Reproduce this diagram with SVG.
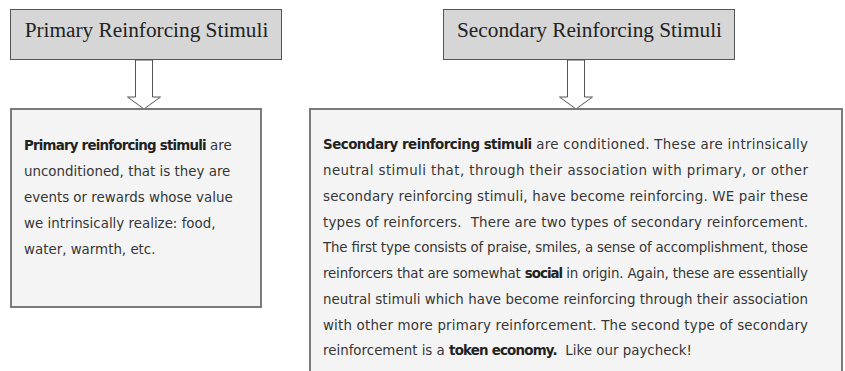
<svg xmlns="http://www.w3.org/2000/svg" width="845" height="371" viewBox="0 0 845 371">
<style>
.hdr{fill:#d6d6d6;stroke:#555;stroke-width:1}
.body{fill:#f4f4f4;stroke:#7a7a7a;stroke-width:2}
.ht{font-family:"Liberation Serif",serif;font-size:21.3px;fill:#222;text-anchor:middle}
.bt{font-family:"DejaVu Sans",sans-serif;font-size:13.4px;fill:#363636;white-space:pre}
.b{font-weight:bold;fill:#222;letter-spacing:-0.8px}
.arr{fill:#fff;stroke:#555;stroke-width:1}
</style>
<rect width="845" height="371" fill="#fff"/>
<g id="connectors">
<path class="arr" d="M135.5,60 V97 H127.5 L144,109 L160.5,97 H152.5 V60 Z"/>
<path class="arr" d="M567.5,60 V97 H559.5 L576,109 L592.5,97 H584.5 V60 Z"/>
</g>
<g id="primary-header">
<rect class="hdr" x="10.5" y="9.5" width="271" height="50"/>
<text class="ht" x="146.5" y="36.5">Primary Reinforcing Stimuli</text>
</g>
<g id="secondary-header">
<rect class="hdr" x="443.5" y="9.5" width="291" height="50"/>
<text class="ht" x="589.5" y="36.5">Secondary Reinforcing Stimuli</text>
</g>
<g id="primary-body">
<rect class="body" x="11" y="109" width="250" height="198"/>
<text class="bt" x="24" y="150"><tspan class="b">Primary reinforcing stimuli</tspan> are</text>
<text class="bt" x="24" y="176">unconditioned, that is they are</text>
<text class="bt" x="24" y="202">events or rewards whose value</text>
<text class="bt" x="24" y="228">we intrinsically realize: food,</text>
<text class="bt" x="24" y="254">water, warmth, etc.</text>
</g>
<g id="secondary-body">
<rect class="body" x="310" y="109" width="532" height="270"/>
<text class="bt" x="323" y="149" textLength="485" lengthAdjust="spacing"><tspan class="b">Secondary reinforcing stimuli</tspan> are conditioned. These are intrinsically</text>
<text class="bt" x="323" y="175" textLength="485" lengthAdjust="spacing">neutral stimuli that, through their association with primary, or other</text>
<text class="bt" x="323" y="201" textLength="485" lengthAdjust="spacing">secondary reinforcing stimuli, have become reinforcing. WE pair these</text>
<text class="bt" x="323" y="227" textLength="485" lengthAdjust="spacing">types of reinforcers.  There are two types of secondary reinforcement.</text>
<text class="bt" x="323" y="252" textLength="485" lengthAdjust="spacing">The first type consists of praise, smiles, a sense of accomplishment, those</text>
<text class="bt" x="323" y="278" textLength="485" lengthAdjust="spacing">reinforcers that are somewhat <tspan class="b">social</tspan> in origin. Again, these are essentially</text>
<text class="bt" x="323" y="304" textLength="485" lengthAdjust="spacing">neutral stimuli which have become reinforcing through their association</text>
<text class="bt" x="323" y="330" textLength="485" lengthAdjust="spacing">with other more primary reinforcement. The second type of secondary</text>
<text class="bt" x="323" y="355">reinforcement is a <tspan class="b">token economy.</tspan>  Like our paycheck!</text>
</g>
</svg>
